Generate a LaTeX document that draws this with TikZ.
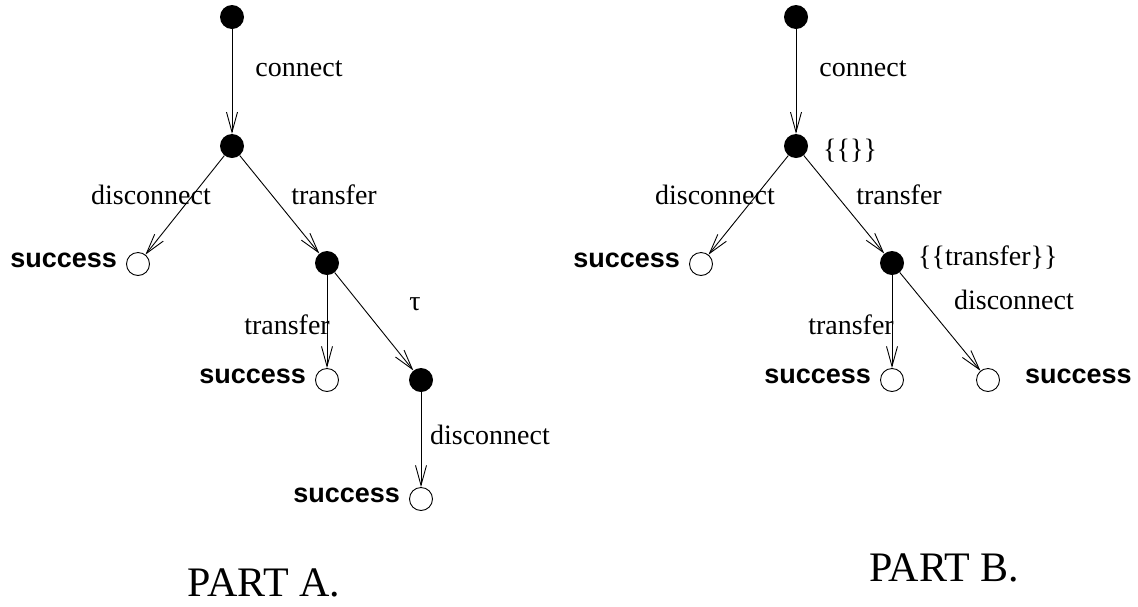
\documentclass[tikz,border=0pt]{standalone}
\usepackage{fontspec}
\setmainfont{Liberation Serif}
\newfontfamily\succfont{Liberation Sans}
\usetikzlibrary{arrows.meta}
\tikzset{
  full/.style={circle,fill=black,minimum size=24pt,inner sep=0pt},
  empty/.style={circle,draw=black,line width=0.9pt,minimum size=23pt,inner sep=0pt,fill=white},
  arr/.style={line width=0.9pt,-{Straight Barb[length=20pt,width=11pt,line width=0.9pt]}},
  lbl/.style={inner sep=0pt,font=\fontsize{28}{32}\selectfont},
  succ/.style={inner sep=0pt,font=\succfont\bfseries\fontsize{27}{30}\selectfont},
  part/.style={inner sep=0pt,font=\fontsize{42}{48}\selectfont}
}
\begin{document}
\begin{tikzpicture}[x=1pt,y=-1pt]
\useasboundingbox[fill=white] (0,0) rectangle (1138,606);
% ---------- PART A ----------
\node[full]  (a1) at (232,17)  {};
\node[full]  (a2) at (232,146) {};
\node[empty] (a3) at (138,264) {};
\node[full]  (a4) at (327,263) {};
\node[empty] (a5) at (327,380) {};
\node[full]  (a6) at (421,380) {};
\node[empty] (a7) at (421,499) {};
\draw[arr] (a1) -- (a2);
\draw[arr] (a2) -- (a3);
\draw[arr] (a2) -- (a4);
\draw[arr] (a4) -- (a5);
\draw[arr] (a4) -- (a6);
\draw[arr] (a6) -- (a7);
\node[lbl,anchor=base] (la1) at (299,76)  {connect};
\node[lbl,anchor=base] (la2) at (151,204) {disconnect};
\node[lbl,anchor=base] (la3) at (334,204) {transfer};
\node[lbl,anchor=base] (la4) at (415,310) {τ};
\node[lbl,anchor=base] (la5) at (287,334) {transfer};
\node[lbl,anchor=base] (la6) at (490,444) {disconnect};
\node[succ,anchor=east] (sa1) at ([xshift=-9pt,yshift=3.5pt]a3.west) {success};
\node[succ,anchor=east] (sa2) at ([xshift=-9pt,yshift=3.5pt]a5.west) {success};
\node[succ,anchor=east] (sa3) at ([xshift=-9pt,yshift=3.5pt]a7.west) {success};
\node[part,anchor=base] (pa) at (264,596) {PART A.};
% ---------- PART B ----------
\node[full]  (b1) at (796,17)  {};
\node[full]  (b2) at (796,146) {};
\node[empty] (b3) at (701,264) {};
\node[full]  (b4) at (892,263) {};
\node[empty] (b5) at (892,380) {};
\node[empty] (b6) at (988,380) {};
\draw[arr] (b1) -- (b2);
\draw[arr] (b2) -- (b3);
\draw[arr] (b2) -- (b4);
\draw[arr] (b4) -- (b5);
\draw[arr] (b4) -- (b6);
\node[lbl,anchor=base] (lb1) at (863,76)  {connect};
\node[lbl,anchor=base] (lb2) at (715,204) {disconnect};
\node[lbl,anchor=base] (lb3) at (899,204) {transfer};
\node[lbl,anchor=west] (lb4) at (823,151) {\{\{\}\}};
\node[lbl,anchor=west] (lb5) at (918,258) {\{\{transfer\}\}};
\node[lbl,anchor=base] (lb6) at (1014,309) {disconnect};
\node[lbl,anchor=base] (lb7) at (851,334) {transfer};
\node[succ,anchor=east] (sb1) at ([xshift=-9pt,yshift=3.5pt]b3.west) {success};
\node[succ,anchor=east] (sb2) at ([xshift=-9pt,yshift=3.5pt]b5.west) {success};
\node[succ,anchor=west] (sb3) at ([xshift=25pt,yshift=3.5pt]b6.east) {success};
\node[part,anchor=base west] (pb) at (869,581) {PART B.};
\end{tikzpicture}
\end{document}
